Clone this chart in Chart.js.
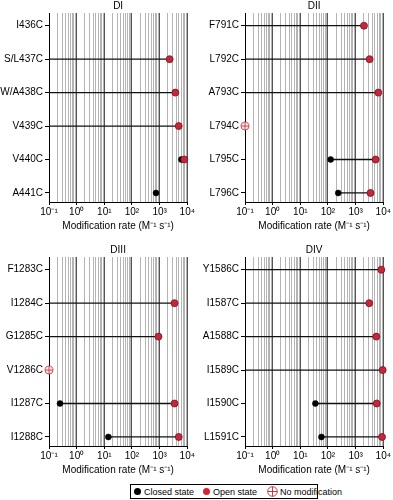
<!DOCTYPE html>
<html lang="en">
<head>
<meta charset="UTF-8">
<title>modification rates</title>
<script src="https://cdn.jsdelivr.net/npm/chart.js@4.4.0/dist/chart.umd.min.js"></script>
<style>
    body { margin: 0; width: 393px; height: 500px; background: #fff; position: relative; font-family: "Liberation Sans", Arial, sans-serif; }
    .panel { position: absolute; }
    #legend { position: absolute; left: 130px; top: 484px; width: 186px; height: 13px; border: 1px solid #000;
              display: flex; align-items: center; font-size: 9px; color: #000; white-space: nowrap; }
    #legend span { display: inline-flex; align-items: center; white-space: nowrap; }
    .dot { width: 7px; height: 7px; border-radius: 50%; display: inline-block; margin: 0 3px 0 3px; }
</style>
</head>
<body>
<div class="panel" style="left:0;top:0"><canvas id="c1" width="196" height="232"></canvas></div>
<div class="panel" style="left:196px;top:0"><canvas id="c2" width="196" height="232"></canvas></div>
<div class="panel" style="left:0;top:244px"><canvas id="c3" width="196" height="232"></canvas></div>
<div class="panel" style="left:196px;top:244px"><canvas id="c4" width="196" height="232"></canvas></div>
<div id="legend">
    <span><i class="dot" style="background:#000"></i>Closed state</span>
    <span style="margin-left:6px"><i class="dot" style="background:#d42434"></i>Open state</span>
    <span style="margin-left:10px"><svg width="11" height="11" style="margin-right:2px"><circle cx="5.5" cy="5.5" r="4.8" fill="#fff" stroke="#c0283a" stroke-width="0.9"/><path d="M5.5 0.7V10.3M0.7 5.5H10.3" stroke="#c0283a" stroke-width="0.9"/></svg>No modification</span>
</div>

<script>
    // donnees
    const tickLabels = ['10⁻¹', '10⁰', '10¹', '10²', '10³', '10⁴'];
    const axisTitle = 'Modification rate (M⁻¹ s⁻¹)';

    const diLabels = ['I436C', 'S/L437C', 'W/A438C', 'V439C', 'V440C', 'A441C'];
    const diClosed = [null, null, null, null, 6100, 740];
    const diOpen = [null, 2300, 3700, 4900, 7800, null];
    const diNoMod = [0, 0, 0, 0, 0, 0];

    const diiLabels = ['F791C', 'L792C', 'A793C', 'L794C', 'L795C', 'L796C'];
    const diiClosed = [null, null, null, null, 125, 235];
    const diiOpen = [2000, 3200, 6600, null, 5300, 3450];
    const diiNoMod = [0, 0, 0, 1, 0, 0];

    const diiiLabels = ['F1283C', 'I1284C', 'G1285C', 'V1286C', 'I1287C', 'I1288C'];
    const diiiClosed = [null, null, null, null, 0.25, 14];
    const diiiOpen = [null, 3450, 910, null, 3450, 4900];
    const diiiNoMod = [0, 0, 0, 1, 0, 0];

    const divLabels = ['Y1586C', 'I1587C', 'A1588C', 'I1589C', 'I1590C', 'L1591C'];
    const divClosed = [null, null, null, null, 35, 58];
    const divOpen = [8500, 3100, 5600, 9500, 5800, 9000];
    const divNoMod = [0, 0, 0, 0, 0, 0];

    Chart.defaults.font.family = '"Liberation Sans", Arial, sans-serif';
    Chart.defaults.color = '#000';

    const xMin = 0.1, xMax = 10000;
    const xTicks = [];
    for (let e = -1; e < 4; e++) {
        for (let s = 1; s <= 9; s++) xTicks.push(s * Math.pow(10, e));
    }
    xTicks.push(xMax);

    function isDecade(v) {
        const l = Math.log10(v);
        return Math.abs(l - Math.round(l)) < 1e-9;
    }

    const titlePlugin = {
        id: 'panelTitle',
        afterDraw(chart, args, opts) {
            const a = chart.chartArea, c = chart.ctx;
            c.save();
            c.font = '10px "Liberation Sans", Arial, sans-serif';
            c.fillStyle = '#000';
            c.textAlign = 'center';
            c.textBaseline = 'middle';
            c.fillText(opts.text, (a.left + a.right) / 2, 6);
            c.restore();
        }
    };

    function makePanel(id, title, labels, closed, open, noMod) {
        const datasets = [];
        const closedPts = [], openPts = [], nmPts = [];
        labels.forEach((l, i) => {
            if (open[i] != null) {
                // trait entre fermé (ou bord gauche) et ouvert
                datasets.push({
                    type: 'line',
                    data: [{ x: closed[i] != null ? closed[i] : xMin, y: i }, { x: open[i], y: i }],
                    borderColor: '#111', borderWidth: 1.3, pointRadius: 0, clip: false, order: 10
                });
                openPts.push({ x: open[i], y: i });
            }
            if (closed[i] != null) closedPts.push({ x: closed[i], y: i });
            if (noMod[i]) nmPts.push({ x: xMin, y: i });
        });
        datasets.push(
            { data: closedPts, backgroundColor: '#000', borderColor: '#000', borderWidth: 0.5, pointRadius: 3, clip: false, order: 3 },
            { data: openPts, backgroundColor: '#c4263a', borderColor: '#7a1424', borderWidth: 0.8, pointRadius: 3.5, clip: false, order: 2 },
            { data: nmPts, backgroundColor: '#fbe3e3', borderColor: '#c8303e', borderWidth: 0.8, pointRadius: 4, clip: false, order: 1 },
            { data: nmPts, pointStyle: 'cross', borderColor: '#c8303e', borderWidth: 0.8, pointRadius: 4, clip: false, order: 0 }
        );

        new Chart(document.getElementById(id), {
            type: 'scatter',
            data: { datasets: datasets },
            options: {
                responsive: false,
                animation: false,
                layout: { padding: { top: 13, right: 7, left: 0, bottom: 0 } },
                plugins: {
                    legend: { display: false },
                    tooltip: { enabled: false },
                    panelTitle: { text: title }
                },
                scales: {
                    x: {
                        type: 'logarithmic',
                        min: xMin,
                        max: xMax,
                        afterBuildTicks: (s) => { s.ticks = xTicks.map(v => ({ value: v, major: isDecade(v) })); },
                        ticks: {
                            autoSkip: false,
                            maxRotation: 0,
                            padding: 1,
                            font: { size: 10 },
                            callback: (v) => isDecade(v) ? tickLabels[Math.round(Math.log10(v)) + 1] : ''
                        },
                        grid: {
                            color: (c) => isDecade(c.tick.value) ? '#555' : '#b4b4b4',
                            tickColor: (c) => isDecade(c.tick.value) ? '#000' : 'rgba(0,0,0,0)',
                            tickLength: 3,
                            lineWidth: 1
                        },
                        border: { color: '#000', width: 1 },
                        title: { display: true, text: axisTitle, font: { size: 10 }, padding: { top: 1, bottom: 0 } }
                    },
                    y: {
                        type: 'linear',
                        reverse: true,
                        min: -0.38,
                        max: 5.27,
                        afterBuildTicks: (s) => { s.ticks = labels.map((l, i) => ({ value: i })); },
                        afterFit: (s) => { s.width = 49; },
                        ticks: { autoSkip: false, padding: 2, font: { size: 10 }, callback: (v) => labels[v] },
                        grid: { drawOnChartArea: false, tickLength: 4, color: '#000' },
                        border: { color: '#000', width: 1 }
                    }
                }
            },
            plugins: [titlePlugin]
        });
    }

    makePanel('c1', 'DI', diLabels, diClosed, diOpen, diNoMod);
    makePanel('c2', 'DII', diiLabels, diiClosed, diiOpen, diiNoMod);
    makePanel('c3', 'DIII', diiiLabels, diiiClosed, diiiOpen, diiiNoMod);
    makePanel('c4', 'DIV', divLabels, divClosed, divOpen, divNoMod);
</script>
</body>
</html>
